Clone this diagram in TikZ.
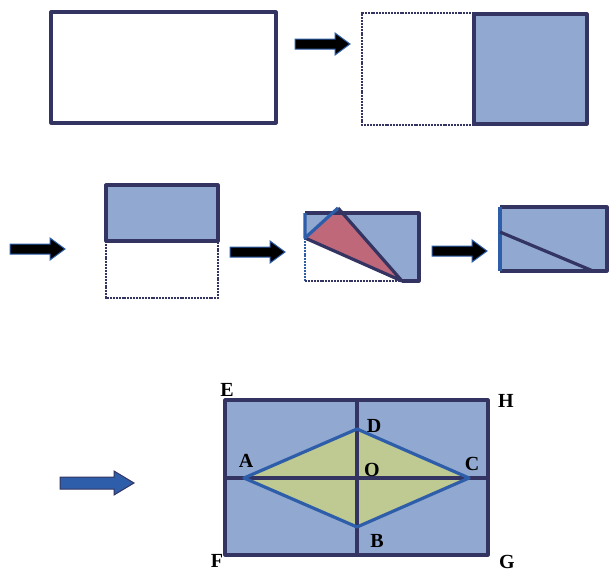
\documentclass[tikz,border=0pt]{standalone}
\usepackage{fontspec}
\setmainfont{Liberation Serif}
\usetikzlibrary{positioning}
\definecolor{navy}{RGB}{52,52,98}
\definecolor{paleblue}{RGB}{145,169,209}
\definecolor{foldred}{RGB}{191,104,122}
\definecolor{rhombgreen}{RGB}{191,201,146}
\definecolor{edgeblue}{RGB}{46,94,170}
\tikzset{
  sheet/.style={draw=navy,line width=3.2pt,line join=round},
  crease/.style={draw=edgeblue,line width=3.2pt,line join=round},
  dotedge/.style={draw=navy,line width=2.8pt,dash pattern=on 2pt off 0.9pt},
  fatarrow/.style={fill=black,draw=edgeblue,line width=1pt},
  ptlabel/.style={font=\bfseries\fontsize{20}{20}\selectfont,inner sep=0pt},
}

\begin{document}
\begin{tikzpicture}[x=1pt,y=-1pt]
  \useasboundingbox (0,0) rectangle (609,573);
  % step arrows
  \foreach \ax/\ay in {295/44,10/249,230/252,432/251}
    \draw[fatarrow] (\ax,\ay-5) -- ++(40,0) -- ++(0,-6) -- ++(15,11) -- ++(-15,11) -- ++(0,-6) -- ++(-40,0) -- cycle;
  % sheet, then folded in half
  \draw[sheet] (51,12) rectangle (276,123);
  \draw[dotedge] (474,13) -- (362,13) -- (362,125) -- (474,125);
  \filldraw[sheet,fill=paleblue] (474,14) rectangle (587,124);
  % folded again
  \filldraw[sheet,fill=paleblue] (106,185) rectangle (218,241);
  \draw[dotedge] (106,241) -- (106,298) -- (218,298) -- (218,241);
  % corner folded down
  \fill[paleblue] (305,213) -- (419,213) -- (419,281) -- (402,281) -- (305,238) -- cycle;
  \fill[foldred] (305,238) -- (338,208) -- (402,281) -- cycle;
  \draw[dotedge,draw=edgeblue] (305,238) -- (305,281);
  \draw[dotedge] (305,281) -- (402,281);
  \draw[sheet] (305,213) -- (419,213) -- (419,281) -- (402,281);
  \draw[sheet] (305,238) -- (402,281) -- (338,208);
  \draw[crease] (305,213) -- (305,238) -- (338,208);
  % cut along the crease
  \fill[paleblue] (500,207) rectangle (607,271);
  \draw[sheet] (500,207) -- (607,207) -- (607,271) -- (500,271);
  \draw[crease] (500,207) -- (500,271);
  \draw[sheet] (500,232) -- (593,271);
  % unfolded
  \draw[fatarrow,fill=edgeblue,draw=navy] (60,477) -- (114,477) -- (114,471) -- (134,483) -- (114,495) -- (114,489) -- (60,489) -- cycle;
  \coordinate (E) at (225,400);
  \coordinate (F) at (225,555);
  \coordinate (G) at (488,555);
  \coordinate (H) at (488,400);
  \coordinate (O) at (357,478);
  \coordinate (A) at (244,478);
  \coordinate (C) at (469,478);
  \coordinate (D) at (357,429);
  \coordinate (B) at (357,527);
  \fill[paleblue] (E) rectangle (G);
  \fill[rhombgreen] (A) -- (D) -- (C) -- (B) -- cycle;
  \draw[sheet] (E -| O) -- (F -| O);
  \draw[sheet] (E |- O) -- (H |- O);
  \draw[crease] (A) -- (D) -- (C) -- (B) -- cycle;
  \draw[sheet] (E) rectangle (G);
  \node[ptlabel] (labE) at (227,390) {E};
  \node[ptlabel] (labH) at (506,401) {H};
  \node[ptlabel] (labF) at (217,561) {F};
  \node[ptlabel] (labG) at (507,562) {G};
  \node[ptlabel] (labA) at (246,461) {A};
  \node[ptlabel] (labO) at (372,470) {O};
  \node[ptlabel] (labC) at (472,464) {C};
  \node[ptlabel] (labD) at (374,426) {D};
  \node[ptlabel] (labB) at (377,541) {B};
\end{tikzpicture}
\end{document}
